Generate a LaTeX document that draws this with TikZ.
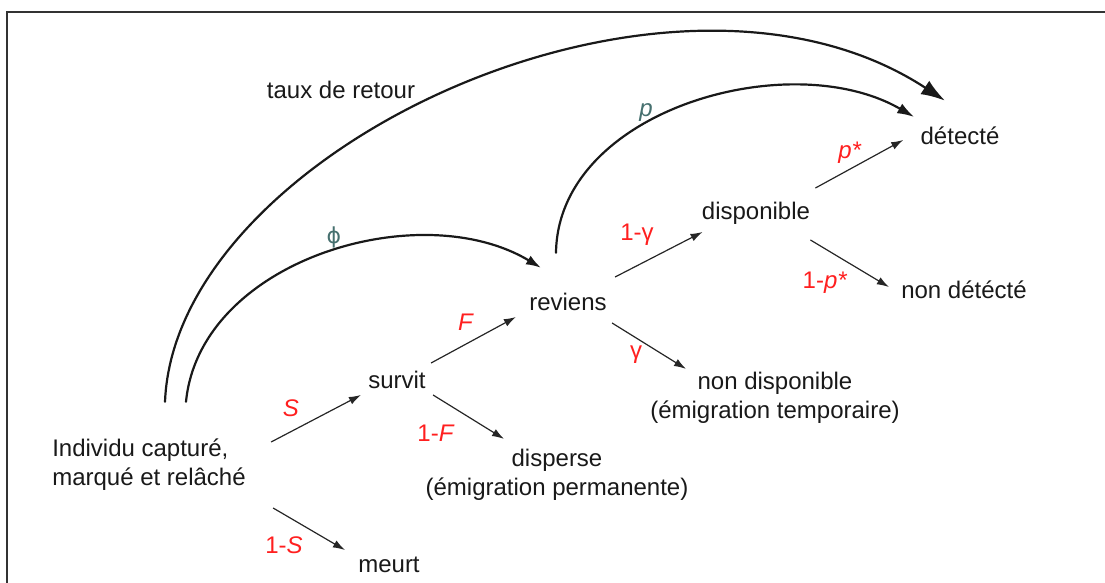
\documentclass[tikz,border=0pt]{standalone}
\usepackage{fontspec}
\setmainfont{Liberation Sans}
\newfontfamily\grecfont{DejaVu Sans}
\usetikzlibrary{arrows.meta}
\definecolor{probred}{HTML}{FF1F1F}
\definecolor{probteal}{HTML}{46706F}
\definecolor{framegray}{HTML}{333333}
\tikzset{
  etat/.style={inner sep=0pt,font=\fontsize{12}{14.5}\selectfont,text=black!90},
  probr/.style={inner sep=0pt,font=\fontsize{12}{14.5}\selectfont,text=probred},
  probt/.style={inner sep=0pt,font=\fontsize{12}{14.5}\selectfont,text=probteal},
  branche/.style={line width=0.6pt,draw=black!85,-{Latex[length=6pt,width=4pt]}},
  arc/.style={line width=1.1pt,draw=black!90,line cap=round}
}
\begin{document}
\begin{tikzpicture}[x=0.5pt,y=-0.5pt]
  \useasboundingbox (0,0) rectangle (1105,583);
  % cadre
  \draw[line width=1pt,framegray] (7,583) -- (7,12) -- (1105,12);

  % etats
  \node[etat,align=left] (ind) at (149,465) {Individu capturé,\\marqué et relâché};
  \node[etat] (meurt) at (389,565) {meurt};
  \node[etat] (survit) at (397,380) {survit};
  \node[etat,align=center] (disperse) at (557,475) {disperse\\(émigration permanente)};
  \node[etat] (reviens) at (568,302) {reviens};
  \node[etat] (dispo) at (756,213) {disponible};
  \node[etat,align=center] (nondispo) at (775,398) {non disponible\\(émigration temporaire)};
  \node[etat] (detecte) at (960,136) {détecté};
  \node[etat] (nondet) at (964,290) {non détécté};
  \node[etat] (taux) at (341,90) {taux de retour};

  % branches
  \draw[branche] ([shift={(25,-23)}]ind.east) -- ([shift={(-7,15)}]survit.west);
  \draw[branche] ([shift={(27,43)}]ind.east) -- ([shift={(-13,-15)}]meurt.west);
  \draw[branche] ([shift={(5,-17)}]survit.east) -- ([shift={(-13,15)}]reviens.west);
  \draw[branche] ([shift={(7,15)}]survit.east) -- ([shift={(-53,-10)}]disperse.north);
  \draw[branche] ([shift={(8,-25)}]reviens.east) -- ([shift={(1,19)}]dispo.west);
  \draw[branche] ([shift={(5,21)}]reviens.east) -- ([shift={(-89,-3)}]nondispo.north);
  \draw[branche] ([shift={(5,-25)}]dispo.east) -- ([shift={(-17,4)}]detecte.west);
  \draw[branche] ([shift={(0,27)}]dispo.east) -- ([shift={(-12,-3)}]nondet.west);

  % arcs
  \draw[arc,-{Latex[length=12pt,width=8pt]}] ([shift={(16,-37)}]ind.north)
    .. controls (175,150) and (669,-80) .. ([shift={(-15,-26)}]detecte.north);
  \draw[arc,-{Latex[length=7.5pt,width=5pt]}] ([shift={(37,-37)}]ind.north)
    .. controls (200,260) and (420,195) .. ([shift={(-27,-25)}]reviens.north);
  \draw[arc,-{Latex[length=8.5pt,width=5.5pt]}] ([shift={(-12,-40)}]reviens.north)
    .. controls (558,110) and (790,45) .. ([shift={(-6,-19)}]detecte.west);

  % probabilites
  \node[probr] (lS) at (291,408) {\textit{S}};
  \node[probr] (l1S) at (284,545) {1-\textit{S}};
  \node[probr] (lF) at (466,322) {\textit{F}};
  \node[probr] (l1F) at (436,433) {1-\textit{F}};
  \node[probr] (lg) at (636,355) {γ};
  \node[probr] (l1g) at (637,235) {1-γ};
  \node[probr] (lps) at (850,153) {\textit{p*}};
  \node[probr] (l1ps) at (825,283) {1-\textit{p*}};
  \node[probt] (lphi) at (334,237) {\grecfont\fontsize{11}{13}\selectfont ϕ};
  \node[probt] (lp) at (646,113) {\textit{p}};
\end{tikzpicture}
\end{document}
